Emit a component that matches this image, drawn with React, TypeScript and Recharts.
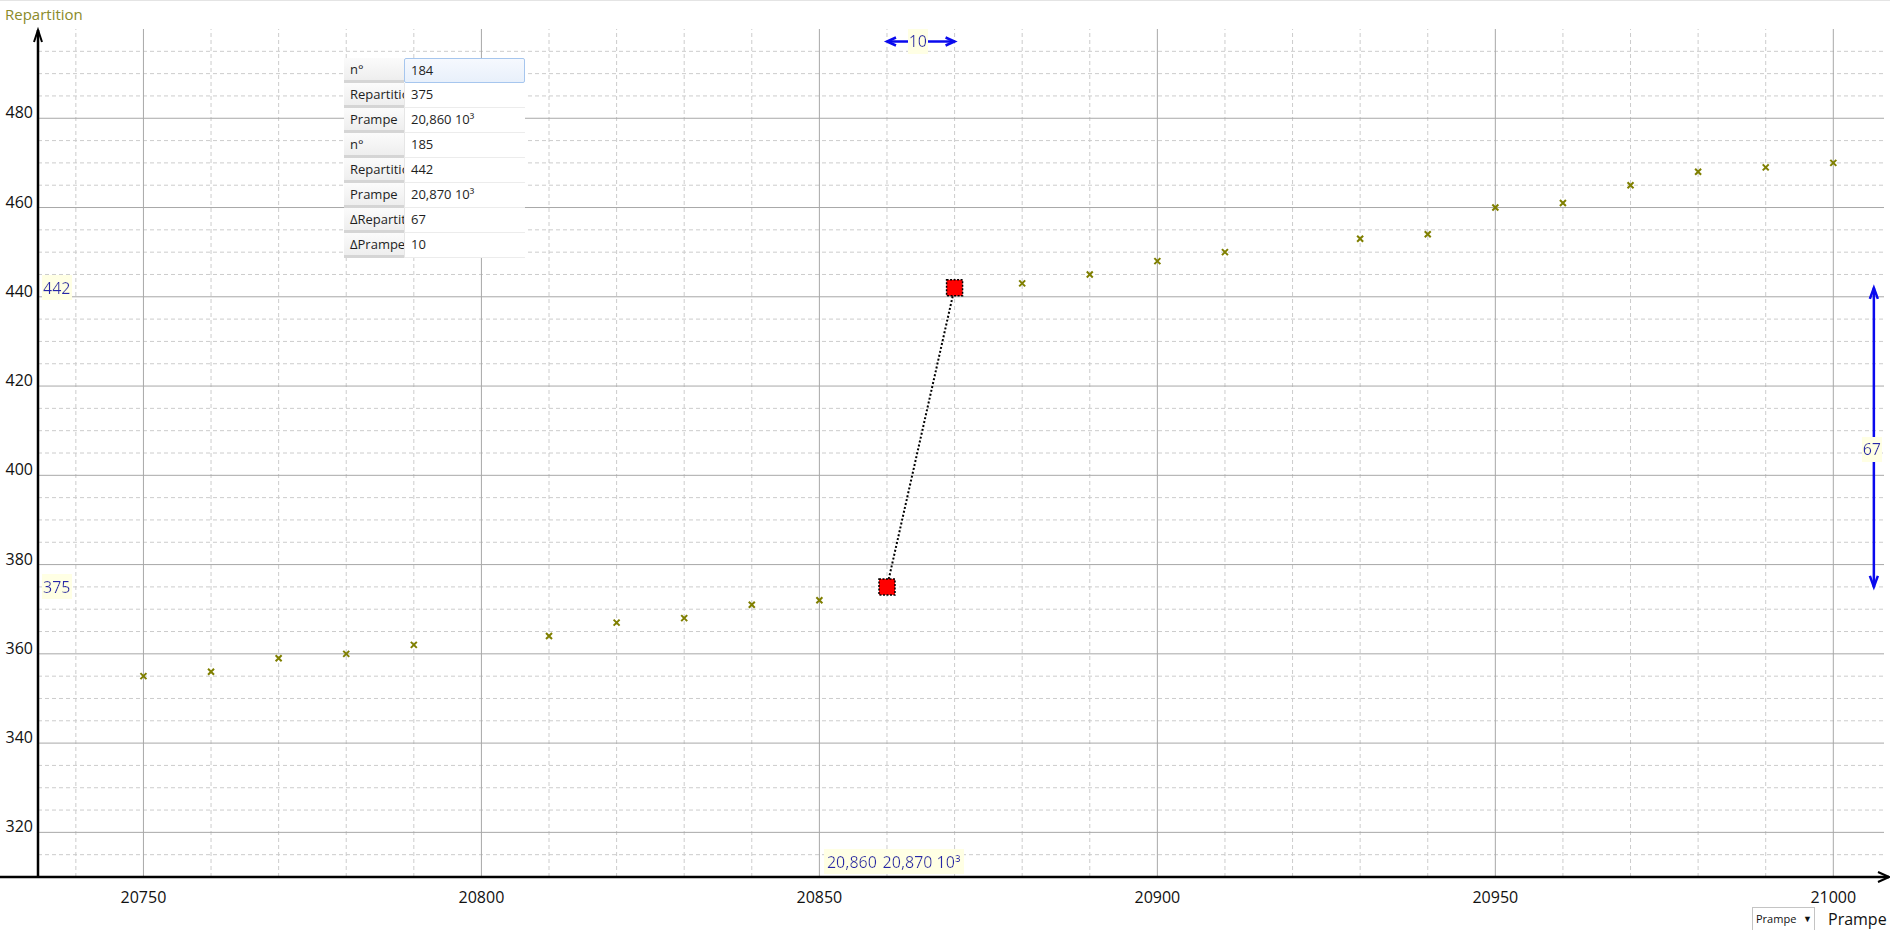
import React from "react";
import {
  ScatterChart,
  Scatter,
  XAxis,
  YAxis,
  ReferenceLine,
  ReferenceDot,
} from "recharts";

// valeurs
const PRAMPE = [
  20750, 20760, 20770, 20780, 20790, 20810, 20820, 20830, 20840, 20850,
  20880, 20890, 20900, 20910, 20930, 20940, 20950, 20960, 20970, 20980,
  20990, 21000,
];
const REPARTITION = [
  355, 356, 359, 360, 362, 364, 367, 368, 371, 372, 443, 445, 448, 450, 453,
  454, 460, 461, 465, 468, 469, 470,
];

// les deux points sélectionnés
const SEL_NUM = [184, 185];
const SEL_PRAMPE = [20860, 20870];
const SEL_REPARTITION = [375, 442];

const X_TICKS = [20750, 20800, 20850, 20900, 20950, 21000];
const X_MINOR = [
  20740, 20760, 20770, 20780, 20790, 20810, 20820, 20830, 20840, 20860,
  20870, 20880, 20890, 20910, 20920, 20930, 20940, 20960, 20970, 20980, 20990,
];
const Y_TICKS = [320, 340, 360, 380, 400, 420, 440, 460, 480];
const Y_MINOR = [
  315, 325, 330, 335, 345, 350, 355, 365, 370, 375, 385, 390, 395, 405, 410,
  415, 425, 430, 435, 445, 450, 455, 465, 470, 475, 485, 490, 495,
];

const X_DOMAIN = [20734.4, 21007.5];
const Y_DOMAIN = [310, 500];
// où sont posées les flèches de delta
const DELTA_ARROW_Y = 497.2;
const DELTA_ARROW_X = 21006;

const TABLE_LABELS = [
  "n°",
  "Repartition",
  "Prampe",
  "n°",
  "Repartition",
  "Prampe",
  "ΔRepartition",
  "ΔPrampe",
];

const FONT = "'Open Sans', 'Noto Sans', sans-serif";
const OLIVE = "#7f7f00";
const BLUE_TEXT = "#2626aa";
const BLUE_LINE = "#0a0aee";
const GRID_MAJOR = "#a8a8a8";
const GRID_MINOR = "#cccccc";

const fmtK = (v: number) => (v / 1000).toFixed(3).replace(".", ",") + " 10³";

const DELTA_X = SEL_PRAMPE[1] - SEL_PRAMPE[0];
const DELTA_Y = SEL_REPARTITION[1] - SEL_REPARTITION[0];

const points = PRAMPE.map((x, i) => ({ x, y: REPARTITION[i] }));
const selected = SEL_PRAMPE.map((x, i) => ({ x, y: SEL_REPARTITION[i] }));

const TABLE_VALUES = [
  String(SEL_NUM[0]),
  String(SEL_REPARTITION[0]),
  fmtK(SEL_PRAMPE[0]),
  String(SEL_NUM[1]),
  String(SEL_REPARTITION[1]),
  fmtK(SEL_PRAMPE[1]),
  String(DELTA_Y),
  String(DELTA_X),
];

function XMark(props: any) {
  const { cx, cy } = props;
  if (cx == null || cy == null) return null;
  const s = 3;
  return (
    <path
      d={`M${cx - s},${cy - s}L${cx + s},${cy + s}M${cx - s},${cy + s}L${cx + s},${cy - s}`}
      stroke={OLIVE}
      strokeWidth={2}
      fill="none"
    />
  );
}

function SelSquare(props: any) {
  const { cx, cy } = props;
  if (cx == null || cy == null) return null;
  return (
    <rect
      x={cx - 8}
      y={cy - 8}
      width={16}
      height={16}
      fill="#ff0000"
      stroke="#000"
      strokeWidth={1.5}
      strokeDasharray="2 1.5"
    />
  );
}

function XAxisArrow(p: any) {
  const y = p.y1;
  const left = Math.min(p.x1, p.x2);
  const tip = Math.max(p.x1, p.x2) + 5;
  return (
    <g>
      <defs>
        <filter id="tagBg" x="-0.03" y="-0.04" width="1.06" height="1.08">
          <feFlood floodColor="#ffffe4" />
          <feComposite in="SourceGraphic" operator="over" />
        </filter>
      </defs>
      <line x1={left - 40} y1={y} x2={tip} y2={y} stroke="#000" strokeWidth={2.5} />
      <path
        d={`M${tip - 11},${y - 5}L${tip},${y}L${tip - 11},${y + 5}`}
        fill="none"
        stroke="#000"
        strokeWidth={2}
      />
    </g>
  );
}

function YAxisArrow(p: any) {
  const x = p.x1;
  const top = Math.min(p.y1, p.y2) + 1;
  const bottom = Math.max(p.y1, p.y2);
  return (
    <g>
      <line x1={x} y1={bottom} x2={x} y2={top} stroke="#000" strokeWidth={2.5} />
      <path
        d={`M${x - 4},${top + 12}L${x},${top}L${x + 4},${top + 12}`}
        fill="none"
        stroke="#000"
        strokeWidth={2}
      />
    </g>
  );
}

function HDeltaArrow(p: any) {
  const y = p.y1;
  const l = Math.min(p.x1, p.x2);
  const r = Math.max(p.x1, p.x2);
  return (
    <g>
      <line x1={l} y1={y} x2={r} y2={y} stroke={BLUE_LINE} strokeWidth={2.5} />
      <path d={`M${l + 9},${y - 4}L${l},${y}L${l + 9},${y + 4}`} fill="none" stroke={BLUE_LINE} strokeWidth={2.5} />
      <path d={`M${r - 9},${y - 4}L${r},${y}L${r - 9},${y + 4}`} fill="none" stroke={BLUE_LINE} strokeWidth={2.5} />
      <text
        x={(l + r) / 2 - 3}
        y={y}
        dy="0.36em"
        textAnchor="middle"
        fill={BLUE_TEXT}
        fontSize={16}
        fontFamily={FONT}
        filter="url(#tagBg)"
      >
        {DELTA_X}
      </text>
    </g>
  );
}

function VDeltaArrow(p: any) {
  const x = p.x1;
  const t = Math.min(p.y1, p.y2);
  const b = Math.max(p.y1, p.y2);
  return (
    <g>
      <line x1={x} y1={t} x2={x} y2={b} stroke={BLUE_LINE} strokeWidth={2.5} />
      <path d={`M${x - 4},${t + 11}L${x},${t}L${x + 4},${t + 11}`} fill="none" stroke={BLUE_LINE} strokeWidth={2.5} />
      <path d={`M${x - 4},${b - 11}L${x},${b}L${x + 4},${b - 11}`} fill="none" stroke={BLUE_LINE} strokeWidth={2.5} />
      <text
        x={x - 2}
        y={(t + b) / 2 + 12}
        dy="0.36em"
        textAnchor="middle"
        fill={BLUE_TEXT}
        fontSize={16}
        fontFamily={FONT}
        filter="url(#tagBg)"
      >
        {DELTA_Y}
      </text>
    </g>
  );
}

// étiquette de valeur collée à l'axe Y
const yTag = (value: number) => (p: any) => (
  <text
    x={p.cx + 5}
    y={p.cy}
    dy="0.36em"
    fill={BLUE_TEXT}
    fontSize={16}
    fontFamily={FONT}
    filter="url(#tagBg)"
  >
    {value}
  </text>
);

// étiquette de valeur collée à l'axe X
const xTag = (value: number, shift: number) => (p: any) => (
  <text
    x={p.cx + shift}
    y={p.cy - 15}
    dy="0.36em"
    fill={BLUE_TEXT}
    fontSize={16}
    fontFamily={FONT}
    filter="url(#tagBg)"
  >
    {fmtK(value)}
  </text>
);

const X_TAG_SHIFT = [-60, -72];

export default function App() {
  return (
    <div
      style={{
        position: "absolute",
        left: 0,
        top: 0,
        width: 1890,
        height: 930,
        overflow: "hidden",
        background: "#fff",
        fontFamily: FONT,
        borderTop: "1px solid #e4e4e4",
        boxSizing: "border-box",
      }}
    >
      <div style={{ position: "absolute", left: 0, top: -1 }}>
        <ScatterChart
          width={1890}
          height={930}
          margin={{ top: 29, right: 6, left: 0, bottom: 13 }}
        >
          <XAxis
            type="number"
            dataKey="x"
            domain={X_DOMAIN}
            ticks={X_TICKS}
            interval={0}
            allowDataOverflow
            axisLine={false}
            tickLine={false}
            tickSize={0}
            tickMargin={0}
            height={40}
            tick={(p: any) => (
              <text
                x={p.x}
                y={p.y + 26}
                textAnchor="middle"
                fill="#111"
                fontSize={16}
                fontFamily={FONT}
              >
                {p.payload.value}
              </text>
            )}
          />
          <YAxis
            type="number"
            dataKey="y"
            domain={Y_DOMAIN}
            ticks={Y_TICKS}
            interval={0}
            allowDataOverflow
            axisLine={false}
            tickLine={false}
            tickSize={0}
            tickMargin={5}
            width={38}
            tick={(p: any) => (
              <text
                x={p.x}
                y={p.y}
                textAnchor="end"
                fill="#111"
                fontSize={16}
                fontFamily={FONT}
              >
                {p.payload.value}
              </text>
            )}
          />

          {Y_MINOR.map((v) => (
            <ReferenceLine key={"ym" + v} y={v} stroke={GRID_MINOR} strokeDasharray="4 3" />
          ))}
          {X_MINOR.map((v) => (
            <ReferenceLine key={"xm" + v} x={v} stroke={GRID_MINOR} strokeDasharray="4 3" />
          ))}
          {Y_TICKS.map((v) => (
            <ReferenceLine key={"yt" + v} y={v} stroke={GRID_MAJOR} />
          ))}
          {X_TICKS.map((v) => (
            <ReferenceLine key={"xt" + v} x={v} stroke={GRID_MAJOR} />
          ))}

          <ReferenceLine y={Y_DOMAIN[0]} ifOverflow="visible" shape={XAxisArrow} />
          <ReferenceLine x={X_DOMAIN[0]} ifOverflow="visible" shape={YAxisArrow} />

          <Scatter data={points} shape={XMark} isAnimationActive={false} />
          <Scatter
            data={selected}
            shape={SelSquare}
            line={{ stroke: "#000", strokeWidth: 2, strokeDasharray: "2 2" }}
            lineType="joint"
            isAnimationActive={false}
          />

          <ReferenceLine
            segment={[
              { x: SEL_PRAMPE[0], y: DELTA_ARROW_Y },
              { x: SEL_PRAMPE[1], y: DELTA_ARROW_Y },
            ]}
            ifOverflow="visible"
            shape={HDeltaArrow}
          />
          <ReferenceLine
            segment={[
              { x: DELTA_ARROW_X, y: SEL_REPARTITION[0] },
              { x: DELTA_ARROW_X, y: SEL_REPARTITION[1] },
            ]}
            ifOverflow="visible"
            shape={VDeltaArrow}
          />

          {SEL_REPARTITION.map((v) => (
            <ReferenceDot
              key={"yl" + v}
              x={X_DOMAIN[0]}
              y={v}
              ifOverflow="visible"
              shape={yTag(v)}
            />
          ))}
          {SEL_PRAMPE.map((v, i) => (
            <ReferenceDot
              key={"xl" + v}
              x={v}
              y={Y_DOMAIN[0]}
              ifOverflow="visible"
              shape={xTag(v, X_TAG_SHIFT[i])}
            />
          ))}
        </ScatterChart>
      </div>

      {/* titre axe Y */}
      <div
        style={{
          position: "absolute",
          left: 5,
          top: 3,
          fontSize: 15,
          color: "#8a8a2a",
          lineHeight: "20px",
        }}
      >
        Repartition
      </div>

      {/* tableau des points sélectionnés */}
      <div
        style={{
          position: "absolute",
          left: 344,
          top: 57,
          width: 181,
          fontSize: 13,
          color: "#1e1e1e",
          background: "#fff",
        }}
      >
        {TABLE_LABELS.map((label, i) => (
          <div key={i} style={{ display: "flex", height: 25 }}>
            <div
              style={{
                width: 60,
                boxSizing: "border-box",
                paddingLeft: 6,
                whiteSpace: "nowrap",
                overflow: "hidden",
                background: "linear-gradient(#fbfbfb, #eeeeee)",
                borderBottom: "3px solid #d5d5d5",
                lineHeight: "23px",
              }}
            >
              {label}
            </div>
            <div
              style={{
                flex: 1,
                boxSizing: "border-box",
                paddingLeft: 6,
                whiteSpace: "nowrap",
                lineHeight: "23px",
                borderLeft: "1px solid #e6e6e6",
                borderBottom: "1px solid #ececec",
                ...(i === 0
                  ? {
                      border: "1px solid #a6c6ee",
                      borderRadius: 2,
                      background: "linear-gradient(#f6f9fe, #e8f0fb)",
                    }
                  : {}),
              }}
            >
              {TABLE_VALUES[i]}
            </div>
          </div>
        ))}
      </div>

      {/* sélecteur d'axe X */}
      <div
        style={{
          position: "absolute",
          left: 1752,
          top: 906,
          width: 63,
          height: 26,
          boxSizing: "border-box",
          border: "1px solid #c4c4c4",
          background: "#fff",
          fontSize: 11,
          lineHeight: "22px",
          display: "flex",
          color: "#111",
        }}
      >
        <span style={{ width: 42, overflow: "hidden", whiteSpace: "nowrap", paddingLeft: 3 }}>
          Prampe
        </span>
        <span style={{ fontSize: 9, paddingLeft: 5 }}>▼</span>
      </div>
      <div
        style={{
          position: "absolute",
          left: 1828,
          top: 906,
          fontSize: 16,
          lineHeight: "24px",
          color: "#111",
        }}
      >
        Prampe
      </div>
    </div>
  );
}
